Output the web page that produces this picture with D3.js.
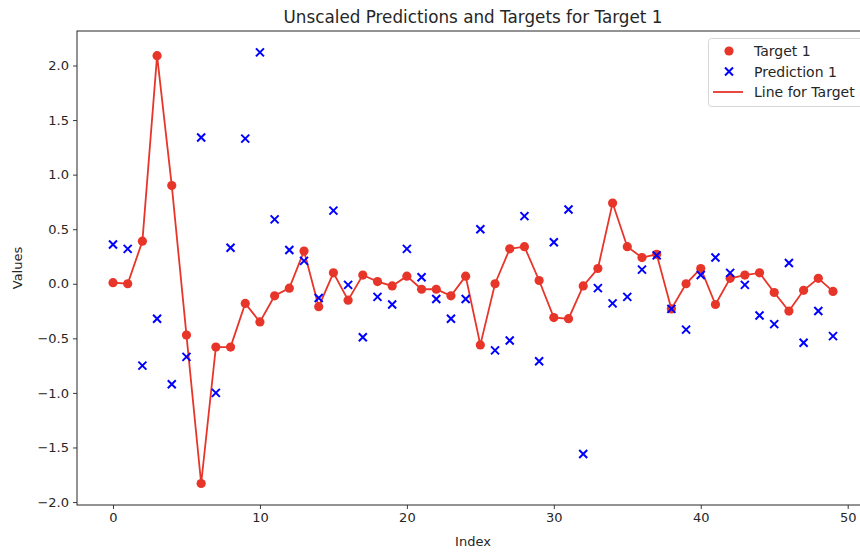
<!DOCTYPE html>
<html>
<head>
<meta charset="utf-8">
<script src="https://cdn.jsdelivr.net/npm/d3@7"></script>
<style>
  html, body { margin: 0; padding: 0; background: #fff; }
  svg { display: block; font-family: "DejaVu Sans", sans-serif; }
</style>
</head>
<body>
<svg id="chart" width="860" height="554"></svg>
<script>
const indices = d3.range(50);
const targetValues = [0.01, 0.00, 0.39, 2.09, 0.90, -0.47, -1.83, -0.58, -0.58, -0.18,
  -0.35, -0.11, -0.04, 0.30, -0.21, 0.10, -0.15, 0.08, 0.02, -0.02,
  0.07, -0.05, -0.05, -0.11, 0.07, -0.56, 0.00, 0.32, 0.34, 0.03,
  -0.31, -0.32, -0.02, 0.14, 0.74, 0.34, 0.24, 0.27, -0.23, 0.00,
  0.14, -0.19, 0.05, 0.08, 0.10, -0.08, -0.25, -0.06, 0.05, -0.07];
const predictionValues = [0.36, 0.32, -0.75, -0.32, -0.92, -0.67, 1.34, -1.00, 0.33, 1.33,
  2.12, 0.59, 0.31, 0.21, -0.13, 0.67, -0.01, -0.49, -0.12, -0.19,
  0.32, 0.06, -0.14, -0.32, -0.14, 0.50, -0.61, -0.52, 0.62, -0.71,
  0.38, 0.68, -1.56, -0.04, -0.18, -0.12, 0.13, 0.26, -0.23, -0.42,
  0.08, 0.24, 0.10, -0.01, -0.29, -0.37, 0.19, -0.54, -0.25, -0.48];
const xTicks = [0, 10, 20, 30, 40, 50];
const yTicks = [-2.0, -1.5, -1.0, -0.5, 0.0, 0.5, 1.0, 1.5, 2.0];

(function () {
const redColor = "#e8352a";
const blueColor = "#0000ff";
const textColor = "#262626";

const svg = d3.select("#chart");
const pl = 77, pr = 869, pt = 31, pb = 505;

const x = d3.scaleLinear().domain([-2.45, 51.45]).range([pl, pr]);
const y = d3.scaleLinear().domain([-2.027, 2.316]).range([pb, pt]);

const xAxis = d3.axisBottom(x).tickValues(xTicks).tickFormat(d3.format("d")).tickSize(4).tickPadding(4);
const yAxis = d3.axisLeft(y).tickValues(yTicks).tickFormat(d => d3.format(".1f")(d).replace("-", "\u2212")).tickSize(4).tickPadding(4);

const gx = svg.append("g").attr("transform", `translate(0,${pb})`).call(xAxis);
const gy = svg.append("g").attr("transform", `translate(${pl},0)`).call(yAxis);
[gx, gy].forEach(g => {
  g.select(".domain").remove();
  g.selectAll(".tick line").attr("stroke", textColor).attr("stroke-width", 0.9);
  g.selectAll(".tick text").attr("fill", textColor).attr("font-size", "13px").attr("font-family", "DejaVu Sans, sans-serif");
});

svg.append("rect").attr("x", pl).attr("y", pt).attr("width", pr - pl).attr("height", pb - pt)
  .attr("fill", "none").attr("stroke", textColor).attr("stroke-width", 1);

const line = d3.line().x((d, i) => x(indices[i])).y(d => y(d));
svg.append("path").datum(targetValues).attr("d", line)
  .attr("fill", "none").attr("stroke", redColor).attr("stroke-width", 1.8);

svg.append("g").selectAll("circle").data(targetValues).join("circle")
  .attr("cx", (d, i) => x(indices[i])).attr("cy", d => y(d)).attr("r", 4.6).attr("fill", redColor);

const xs = 4;
svg.append("g").selectAll("path").data(predictionValues).join("path")
  .attr("d", (d, i) => {
    const cx = x(indices[i]), cy = y(d);
    return `M${cx - xs},${cy - xs}L${cx + xs},${cy + xs}M${cx - xs},${cy + xs}L${cx + xs},${cy - xs}`;
  })
  .attr("stroke", blueColor).attr("stroke-width", 2).attr("fill", "none");

svg.append("text").attr("x", (pl + pr) / 2).attr("y", 22.5).attr("text-anchor", "middle")
  .attr("font-size", "16.8px").attr("fill", textColor).text("Unscaled Predictions and Targets for Target 1");
svg.append("text").attr("x", (pl + pr) / 2).attr("y", 546).attr("text-anchor", "middle")
  .attr("font-size", "13px").attr("fill", textColor).text("Index");
svg.append("text").attr("transform", `translate(22,${(pt + pb) / 2}) rotate(-90)`).attr("text-anchor", "middle")
  .attr("font-size", "13px").attr("fill", textColor).text("Values");

const lg = svg.append("g");
lg.append("rect").attr("x", 708.5).attr("y", 38.5).attr("width", 170).attr("height", 68).attr("rx", 3)
  .attr("fill", "#fff").attr("fill-opacity", 0.8).attr("stroke", "#d6d6d6");
const legendItems = [
  { label: "Target 1", type: "dot" },
  { label: "Prediction 1", type: "x" },
  { label: "Line for Target 1", type: "line" }
];
legendItems.forEach((it, k) => {
  const cy = 51 + k * 20.5;
  if (it.type === "dot") lg.append("circle").attr("cx", 729).attr("cy", cy).attr("r", 4.6).attr("fill", redColor);
  if (it.type === "x") lg.append("path").attr("d", `M${725},${cy - 4}L${733},${cy + 4}M${725},${cy + 4}L${733},${cy - 4}`)
    .attr("stroke", blueColor).attr("stroke-width", 2);
  if (it.type === "line") lg.append("line").attr("x1", 713).attr("x2", 743).attr("y1", cy).attr("y2", cy)
    .attr("stroke", redColor).attr("stroke-width", 1.8);
  lg.append("text").attr("x", 754).attr("y", cy + 5).attr("font-size", "14px").attr("fill", textColor).text(it.label);
});
})();
</script>
</body>
</html>
